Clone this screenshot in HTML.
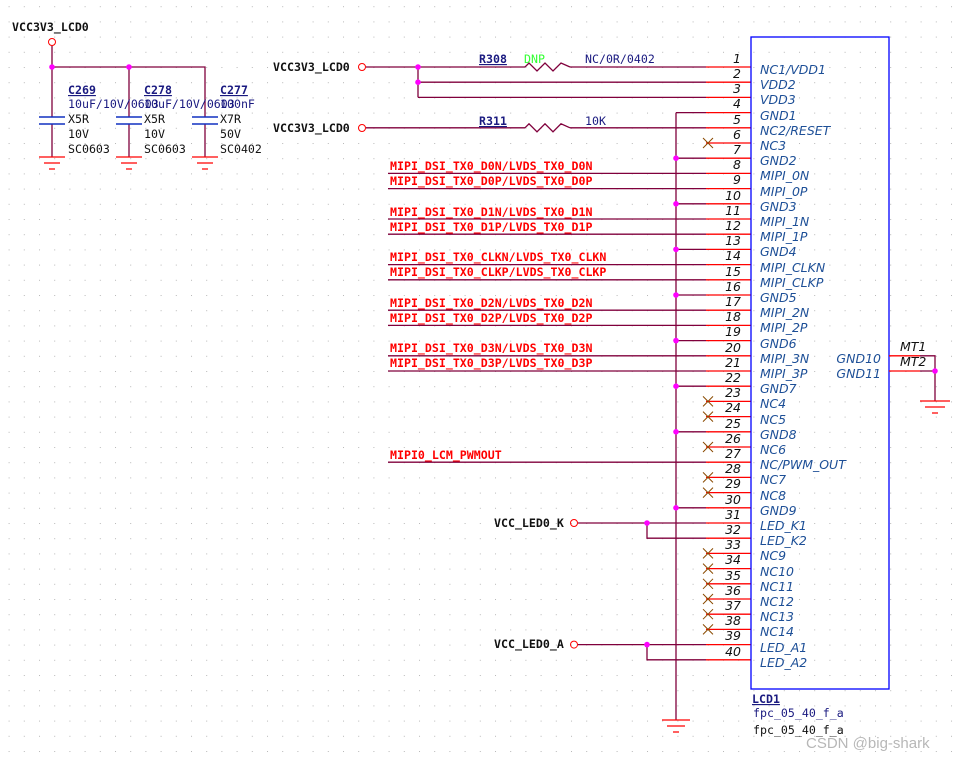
<!DOCTYPE html>
<html><head><meta charset="utf-8"><style>
html,body{margin:0;padding:0;background:#fff;}
svg{display:block}
.m{font-family:"DejaVu Sans Mono","Liberation Mono",monospace;font-size:11.6px;font-weight:bold}
.n{font-family:"DejaVu Sans","Liberation Sans",sans-serif;font-style:italic;font-size:12.5px;fill:#1d4f97}
.k{font-family:"DejaVu Sans","Liberation Sans",sans-serif;font-style:italic;font-size:12.5px;fill:#111}
.w{stroke:#80003c;stroke-width:1.3;fill:none}
.r{stroke:#ff0000;stroke-width:1.3;fill:none}
.x{stroke:#8a4a00;stroke-width:1}
</style></head><body>
<svg width="957" height="757" viewBox="0 0 957 757" xmlns="http://www.w3.org/2000/svg">
<defs><pattern id="g" x="8.6" y="6.2" width="15.2" height="15.2" patternUnits="userSpaceOnUse"><rect x="0" y="0" width="1" height="1" fill="#b8b8b8"/></pattern></defs>
<rect width="957" height="757" fill="url(#g)"/>

<text x="12" y="31" class="m" fill="#111">VCC3V3_LCD0</text>
<circle cx="52" cy="42" r="3.5" fill="none" stroke="#f00" stroke-width="1"/>
<path class="w" d="M52 46V117 M52 67H205V117 M129 67V117 M52 124V157 M129 124V157 M205 124V157"/>
<g stroke="#1030c0" stroke-width="1.5"><path d="M39 117H65M39 124H65M116 117H142M116 124H142M192 117H218M192 124H218"/></g>
<g stroke="#f00" stroke-width="1.3"><path d="M39 157H65M44 163H60M49 169H55M116 157H142M121 163H137M126 169H132M192 157H218M197 163H213M202 169H208"/></g>
<g fill="#f0f"><circle cx="52" cy="67" r="2.8"/><circle cx="129" cy="67" r="2.8"/></g>
<g class="m" fill="#1a1a80" style="font-weight:normal">
<text x="68" y="94" text-decoration="underline" font-weight="bold">C269</text><text x="144" y="94" text-decoration="underline" font-weight="bold">C278</text><text x="220" y="94" text-decoration="underline" font-weight="bold">C277</text>
<text x="68" y="108">10uF/10V/0603</text><text x="144" y="108">10uF/10V/0603</text><text x="220" y="108">100nF</text>
</g>
<g class="m" fill="#111" style="font-weight:normal">
<text x="68" y="123">X5R</text><text x="144" y="123">X5R</text><text x="220" y="123">X7R</text>
<text x="68" y="138">10V</text><text x="144" y="138">10V</text><text x="220" y="138">50V</text>
<text x="68" y="153">SC0603</text><text x="144" y="153">SC0603</text><text x="220" y="153">SC0402</text>
</g>

<text x="273" y="71" class="m" fill="#111">VCC3V3_LCD0</text>
<text x="273" y="132" class="m" fill="#111">VCC3V3_LCD0</text>
<circle cx="362" cy="67" r="3.5" fill="none" stroke="#f00" stroke-width="1"/>
<circle cx="362" cy="128" r="3.5" fill="none" stroke="#f00" stroke-width="1"/>
<path class="w" d="M366 67H525 M570 67H706 M418 67V97.4 M418 82.2H706 M418 97.4H706 M366 127.8H525 M570 127.8H706"/>
<path class="w" d="M525 67l4 -4 8 8 8 -8 8 8 8 -8 9 4"/>
<path class="w" d="M525 127.8l4 -4 8 8 8 -8 8 8 8 -8 9 4"/>
<g fill="#f0f"><circle cx="418" cy="67" r="2.8"/><circle cx="418" cy="82.2" r="2.8"/></g>
<g class="m"><text x="479" y="63" fill="#1a1a80" text-decoration="underline">R308</text><text x="524" y="63" fill="#33ff33" style="font-weight:normal">DNP</text><text x="585" y="63" fill="#1a1a80" style="font-weight:normal">NC/0R/0402</text>
<text x="479" y="125" fill="#1a1a80" text-decoration="underline">R311</text><text x="585" y="125" fill="#1a1a80" style="font-weight:normal">10K</text></g>

<path class="w" d="M388 173.4H706M388 188.6H706M388 219H706M388 234.2H706M388 264.6H706M388 279.8H706M388 310.2H706M388 325.4H706M388 355.8H706M388 371H706M388 462.2H706"/>
<g class="m" fill="#f00">
<text x="390" y="170">MIPI_DSI_TX0_D0N/LVDS_TX0_D0N</text>
<text x="390" y="185">MIPI_DSI_TX0_D0P/LVDS_TX0_D0P</text>
<text x="390" y="216">MIPI_DSI_TX0_D1N/LVDS_TX0_D1N</text>
<text x="390" y="231">MIPI_DSI_TX0_D1P/LVDS_TX0_D1P</text>
<text x="390" y="261">MIPI_DSI_TX0_CLKN/LVDS_TX0_CLKN</text>
<text x="390" y="276">MIPI_DSI_TX0_CLKP/LVDS_TX0_CLKP</text>
<text x="390" y="307">MIPI_DSI_TX0_D2N/LVDS_TX0_D2N</text>
<text x="390" y="322">MIPI_DSI_TX0_D2P/LVDS_TX0_D2P</text>
<text x="390" y="352">MIPI_DSI_TX0_D3N/LVDS_TX0_D3N</text>
<text x="390" y="367">MIPI_DSI_TX0_D3P/LVDS_TX0_D3P</text>
<text x="390" y="459">MIPI0_LCM_PWMOUT</text>
</g>

<path class="w" d="M676 112.6V720 M676 112.6H706 M676 158.2H706 M676 203.8H706 M676 249.4H706 M676 295H706 M676 340.6H706 M676 386.2H706 M676 431.8H706 M676 507.8H706"/>
<g stroke="#f00" stroke-width="1.3"><path d="M662 720H690M667 726H685M673 732H679"/></g>
<g fill="#f0f"><circle cx="676" cy="158.2" r="2.8"/><circle cx="676" cy="203.8" r="2.8"/><circle cx="676" cy="249.4" r="2.8"/><circle cx="676" cy="295" r="2.8"/><circle cx="676" cy="340.6" r="2.8"/><circle cx="676" cy="386.2" r="2.8"/><circle cx="676" cy="431.8" r="2.8"/><circle cx="676" cy="507.8" r="2.8"/></g>

<text x="494" y="527" class="m" fill="#111">VCC_LED0_K</text>
<text x="494" y="648" class="m" fill="#111">VCC_LED0_A</text>
<circle cx="574" cy="523" r="3.5" fill="none" stroke="#f00" stroke-width="1"/>
<circle cx="574" cy="644.6" r="3.5" fill="none" stroke="#f00" stroke-width="1"/>
<path class="w" d="M578 523H706 M647 523V538.2H706 M578 644.6H706 M647 644.6V659.8H706"/>
<g fill="#f0f"><circle cx="647" cy="523" r="2.8"/><circle cx="647" cy="644.6" r="2.8"/></g>

<path class="r" d="M706 67H751M706 82.2H751M706 97.4H751M706 112.6H751M706 127.8H751M706 143H751M706 158.2H751M706 173.4H751M706 188.6H751M706 203.8H751M706 219H751M706 234.2H751M706 249.4H751M706 264.6H751M706 279.8H751M706 295H751M706 310.2H751M706 325.4H751M706 340.6H751M706 355.8H751M706 371H751M706 386.2H751M706 401.4H751M706 416.6H751M706 431.8H751M706 447H751M706 462.2H751M706 477.4H751M706 492.6H751M706 507.8H751M706 523H751M706 538.2H751M706 553.4H751M706 568.6H751M706 583.8H751M706 599H751M706 614.2H751M706 629.4H751M706 644.6H751M706 659.8H751"/>
<g class="x"><path d="M703 138l10 10m0-10l-10 10 M703 396.4l10 10m0-10l-10 10 M703 411.6l10 10m0-10l-10 10 M703 442l10 10m0-10l-10 10 M703 472.4l10 10m0-10l-10 10 M703 487.6l10 10m0-10l-10 10 M703 548.4l10 10m0-10l-10 10 M703 563.6l10 10m0-10l-10 10 M703 578.8l10 10m0-10l-10 10 M703 594l10 10m0-10l-10 10 M703 609.2l10 10m0-10l-10 10 M703 624.4l10 10m0-10l-10 10"/></g>

<rect x="751" y="37" width="138" height="652" fill="none" stroke="#0000ff" stroke-width="1.3"/>
<g class="k" text-anchor="end">
<text x="741" y="63">1</text><text x="741" y="78">2</text><text x="741" y="93">3</text><text x="741" y="108">4</text><text x="741" y="124">5</text><text x="741" y="139">6</text><text x="741" y="154">7</text><text x="741" y="169">8</text><text x="741" y="184">9</text><text x="741" y="200">10</text><text x="741" y="215">11</text><text x="741" y="230">12</text><text x="741" y="245">13</text><text x="741" y="260">14</text><text x="741" y="276">15</text><text x="741" y="291">16</text><text x="741" y="306">17</text><text x="741" y="321">18</text><text x="741" y="336">19</text><text x="741" y="352">20</text><text x="741" y="367">21</text><text x="741" y="382">22</text><text x="741" y="397">23</text><text x="741" y="412">24</text><text x="741" y="428">25</text><text x="741" y="443">26</text><text x="741" y="458">27</text><text x="741" y="473">28</text><text x="741" y="488">29</text><text x="741" y="504">30</text><text x="741" y="519">31</text><text x="741" y="534">32</text><text x="741" y="549">33</text><text x="741" y="564">34</text><text x="741" y="580">35</text><text x="741" y="595">36</text><text x="741" y="610">37</text><text x="741" y="625">38</text><text x="741" y="640">39</text><text x="741" y="656">40</text>
</g>
<g class="n">
<text x="760" y="74">NC1/VDD1</text><text x="760" y="89">VDD2</text><text x="760" y="104">VDD3</text><text x="760" y="120">GND1</text><text x="760" y="135">NC2/RESET</text><text x="760" y="150">NC3</text><text x="760" y="165">GND2</text><text x="760" y="180">MIPI_0N</text><text x="760" y="196">MIPI_0P</text><text x="760" y="211">GND3</text><text x="760" y="226">MIPI_1N</text><text x="760" y="241">MIPI_1P</text><text x="760" y="256">GND4</text><text x="760" y="272">MIPI_CLKN</text><text x="760" y="287">MIPI_CLKP</text><text x="760" y="302">GND5</text><text x="760" y="317">MIPI_2N</text><text x="760" y="332">MIPI_2P</text><text x="760" y="348">GND6</text><text x="760" y="363">MIPI_3N</text><text x="760" y="378">MIPI_3P</text><text x="760" y="393">GND7</text><text x="760" y="408">NC4</text><text x="760" y="424">NC5</text><text x="760" y="439">GND8</text><text x="760" y="454">NC6</text><text x="760" y="469">NC/PWM_OUT</text><text x="760" y="484">NC7</text><text x="760" y="500">NC8</text><text x="760" y="515">GND9</text><text x="760" y="530">LED_K1</text><text x="760" y="545">LED_K2</text><text x="760" y="560">NC9</text><text x="760" y="576">NC10</text><text x="760" y="591">NC11</text><text x="760" y="606">NC12</text><text x="760" y="621">NC13</text><text x="760" y="636">NC14</text><text x="760" y="652">LED_A1</text><text x="760" y="667">LED_A2</text>
<text x="881" y="363" text-anchor="end">GND10</text><text x="881" y="378" text-anchor="end">GND11</text>
</g>
<path class="r" d="M889 355.8H920M889 371H920"/>
<path class="w" d="M920 355.8H935V401 M920 371H935"/>
<circle cx="935" cy="371" r="2.8" fill="#f0f"/>
<g stroke="#f00" stroke-width="1.3"><path d="M920 401H950M925 407H945M932 413H938"/></g>
<g class="k"><text x="900" y="351">MT1</text><text x="900" y="366">MT2</text></g>

<text x="752" y="703" class="m" fill="#1a1a80" text-decoration="underline">LCD1</text>
<text x="753" y="717" class="m" fill="#1a1a80" style="font-weight:normal">fpc_05_40_f_a</text>
<text x="753" y="734" class="m" fill="#111" style="font-weight:normal">fpc_05_40_f_a</text>
<text x="806" y="748" font-family="Liberation Sans,sans-serif" font-size="15" fill="#b0b0b0" opacity="0.9">CSDN @big-shark</text>
</svg>
</body></html>
